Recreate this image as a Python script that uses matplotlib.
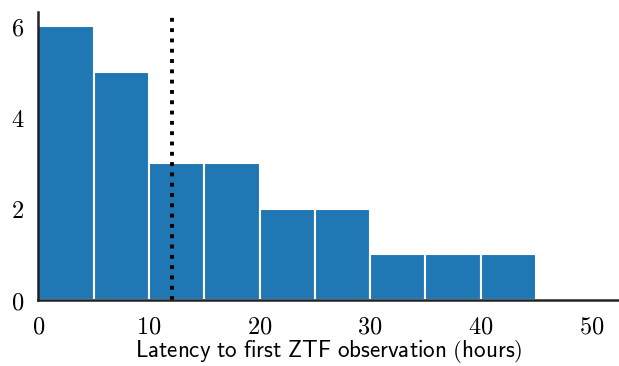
import matplotlib
matplotlib.use('Agg')
import matplotlib.pyplot as plt

# histogram counts (5 hour bins)
bin_edges = [0, 5, 10, 15, 20, 25, 30, 35, 40, 45]
counts = [6, 5, 3, 3, 2, 2, 1, 1, 1]
median_latency = 12.1

xticks = [0, 10, 20, 30, 40, 50]
yticks = [0, 2, 4, 6]

plt.rcParams['mathtext.fontset'] = 'cm'

fig, ax = plt.subplots(figsize=(6.19, 3.66), dpi=100)
ax.hist(bin_edges[:-1], bins=bin_edges, weights=counts,
        color='#1f77b4', edgecolor='white', linewidth=1.5)
ax.axvline(median_latency, color='black', linestyle=':', linewidth=2.8, ymax=0.985)

ax.set_xlim(0, 52.5)
ax.set_ylim(0, 6.3)
ax.set_xticks(xticks)
ax.set_xticklabels(['$%d$' % t for t in xticks], fontsize=17.5)
ax.set_yticks(yticks)
ax.set_yticklabels(['$%d$' % t for t in yticks], fontsize=17.5)
ax.tick_params(axis='x', length=0, pad=10)
ax.tick_params(axis='y', length=0, pad=10)

ax.set_xlabel(r'$\mathsf{Latency\ to\ first\ ZTF\ observation\ (hours)}$', fontsize=16.6, labelpad=0)

for s in ['top', 'right']:
    ax.spines[s].set_visible(False)
for s in ['left', 'bottom']:
    ax.spines[s].set_color('#222222')
    ax.spines[s].set_linewidth(1.8)

fig.subplots_adjust(left=0.062, right=1.0, top=0.967, bottom=0.18)
fig.savefig('out.png', dpi=100)
